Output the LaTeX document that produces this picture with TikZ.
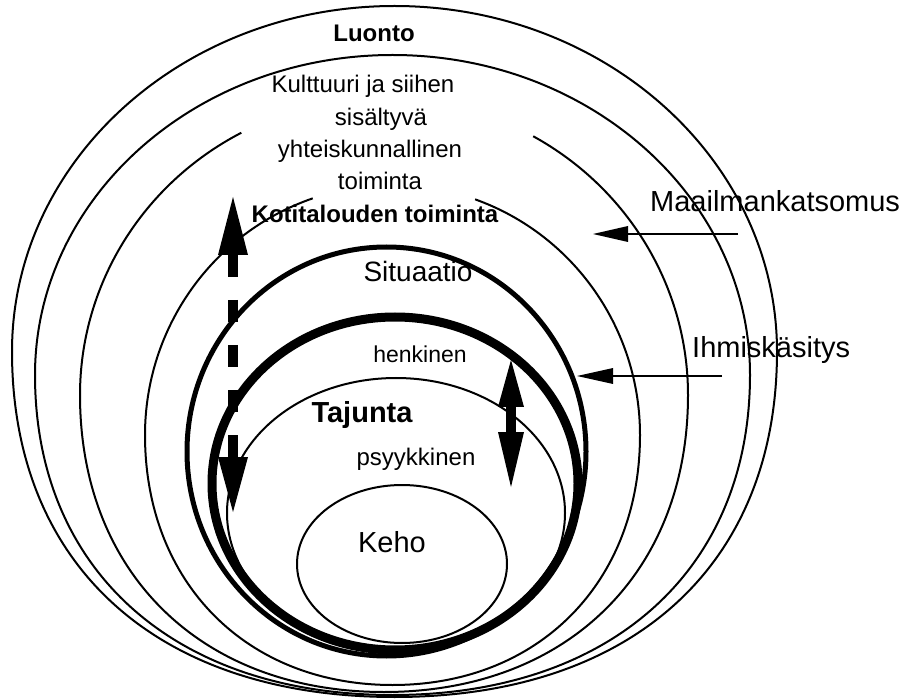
\documentclass[tikz,border=0pt]{standalone}
\usepackage{fontspec}
\setmainfont{Liberation Sans}
\usetikzlibrary{arrows.meta}
% lower half of an egg-like ring: from right point via bottom to left point
% #1 cx, #2 cy, #3 rx, #4 bottom radius, #5 control factor
\newcommand\eggbot[5]{(#1+#3,#2) .. controls (#1+#3,#2+#5*#4) and (#1+#5*#3,#2+#4) .. (#1,#2+#4) .. controls (#1-#5*#3,#2+#4) and (#1-#3,#2+#5*#4) .. (#1-#3,#2)}
\begin{document}
\begin{tikzpicture}[x=1pt,y=-1pt,
  thinline/.style={line width=2pt},
  midline/.style={line width=5pt},
  heavyline/.style={line width=9pt},
  lbl/.style={inner sep=0pt, anchor=base},
  lblw/.style={inner sep=0pt, anchor=base west},
  fa/.style={font=\fontsize{24}{28}\selectfont},
  fb/.style={font=\fontsize{29}{33}\selectfont},
  fbb/.style={font=\bfseries\fontsize{24}{28}\selectfont}]
\useasboundingbox (0,0) rectangle (913,700);
% nested rings
\draw[thinline] \eggbot{394.5}{351.5}{382.5}{345.5}{0.62}
  arc[start angle=180, end angle=360, x radius=382.5, y radius=345.5] -- cycle;
\draw[thinline] \eggbot{392.5}{375}{357.5}{320}{0.61}
  arc[start angle=180, end angle=360, x radius=357.5, y radius=320] -- cycle;
\draw[thinline] \eggbot{384}{395}{304}{297}{0.6}
  arc[start angle=180, end angle=242, x radius=304, y radius=297]
  (384,395) ++(-60.6:304 and 297) arc[start angle=-60.6, end angle=0, x radius=304, y radius=297];
\draw[thinline] \eggbot{392.5}{435}{247.5}{250}{0.59}
  arc[start angle=180, end angle=251.2, x radius=247.5, y radius=250]
  (392.5,435) ++(-70.5:247.5 and 250) arc[start angle=-70.5, end angle=0, x radius=247.5, y radius=250];
\draw[midline] (386.5,451.5) ellipse [x radius=199.5, y radius=204.5];
\draw[heavyline] (395,483.5) ellipse [x radius=183, y radius=166.5];
\draw[thinline] (396,513) ellipse [x radius=169, y radius=135];
\draw[thinline] (402,564) ellipse [x radius=105, y radius=79];
% labels
\node[lbl, fbb] (luonto) at (374,42) {Luonto};
\node[lbl, fa] (k1) at (363,93) {Kulttuuri ja siihen};
\node[lbl, fa] (k2) at (381,126) {sisältyvä};
\node[lbl, fa] (k3) at (370,158) {yhteiskunnallinen};
\node[lbl, fa] (k4) at (380,190) {toiminta};
\node[lbl, fbb] (koti) at (375,223) {Kotitalouden toiminta};
\node[lbl, font=\fontsize{28}{32}\selectfont] (sit) at (418,282) {Situaatio};
\node[lbl, font=\fontsize{23}{27}\selectfont] (henk) at (420,363) {henkinen};
\node[lbl, font=\bfseries\fontsize{29}{33}\selectfont] (taj) at (362,422) {Tajunta};
\node[lbl, fa] (psy) at (416,465) {psyykkinen};
\node[lbl, fb] (keho) at (392,552) {Keho};
\node[lblw, fb] (maa) at (650,212) {Maailmankatsomus};
\node[lblw, fb] (ihm) at (692,358) {Ihmiskäsitys};
% arrows
\coordinate (mkA) at (738,234);
\coordinate (mkB) at (593,234);
\coordinate (ihA) at (722,376);
\coordinate (ihB) at (577,376);
\coordinate (dT) at (233,197);
\coordinate (dB) at (233,512);
\coordinate (rT) at (511,360);
\coordinate (rB) at (511,487);
\draw[thinline, -{Triangle[length=35pt,width=16pt,line width=0pt]}] (mkA) -- (mkB);
\draw[thinline, -{Triangle[length=36pt,width=16pt,line width=0pt]}] (ihA) -- (ihB);
\draw[line width=10pt, dash pattern=on 22pt off 23pt,
  {Triangle[length=58pt,width=30pt,line width=0pt]}-{Triangle[length=55pt,width=30pt,line width=0pt]}] (dT) -- (dB);
\draw[line width=10pt,
  {Triangle[length=47pt,width=26pt,line width=0pt]}-{Triangle[length=55pt,width=26pt,line width=0pt]}] (rT) -- (rB);
\end{tikzpicture}
\end{document}
